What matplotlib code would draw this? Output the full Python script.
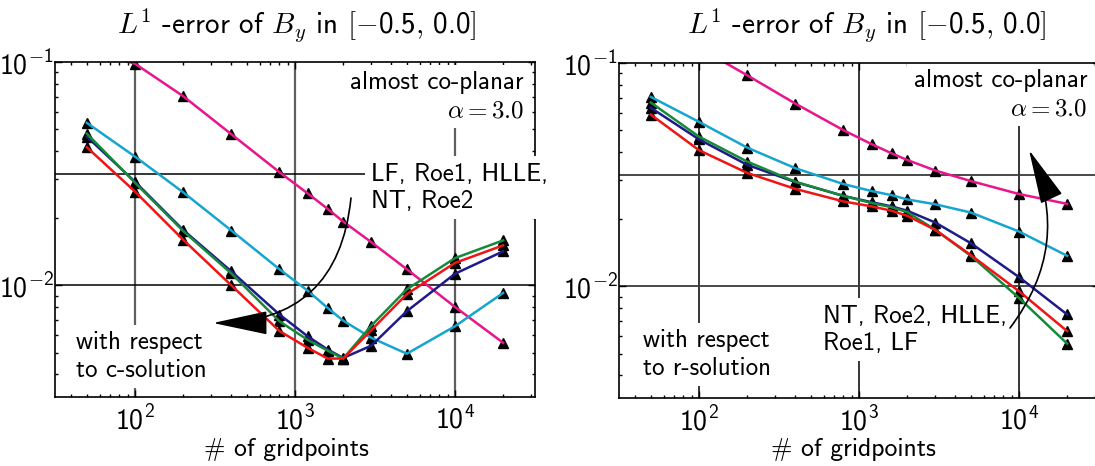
import os
import matplotlib
matplotlib.use("Agg")
import matplotlib.pyplot as plt
from matplotlib import font_manager
from matplotlib.ticker import LogLocator, NullFormatter, FixedLocator, FixedFormatter

cmss = os.path.join(matplotlib.get_data_path(), "fonts", "ttf", "cmss10.ttf")
font_manager.fontManager.addfont(cmss)
plt.rcParams['font.family'] = ['cmss10', 'DejaVu Sans']
plt.rcParams['mathtext.fontset'] = 'cm'
plt.rcParams['mathtext.rm'] = 'cmss10'
plt.rcParams['mathtext.sf'] = 'cmss10'
plt.rcParams['mathtext.fallback'] = 'cm'
plt.rcParams['axes.unicode_minus'] = False

# ---------------- data ----------------
gridpoints = [50, 100, 200, 400, 800, 1200, 1600, 2000, 3000, 5000, 10000, 20000]

# left panel: with respect to c-solution
c_magenta = [0.112, 0.0983, 0.0703, 0.0475, 0.0321, 0.0258, 0.0220, 0.0193, 0.0156, 0.0118, 0.0080, 0.00553]
c_cyan    = [0.0534, 0.0377, 0.0261, 0.0176, 0.0118, 0.00946, 0.00792, 0.00695, 0.00582, 0.00494, 0.00656, 0.00925]
c_blue    = [0.0463, 0.0291, 0.0177, 0.01155, 0.0074, 0.00591, 0.00516, 0.00473, 0.00537, 0.00766, 0.01127, 0.0142]
c_green   = [0.0478, 0.0288, 0.0175, 0.0113, 0.0069, 0.0057, 0.0051, 0.0047, 0.0066, 0.0096, 0.01324, 0.0159]
c_red     = [0.0415, 0.0263, 0.0160, 0.0100, 0.00624, 0.00525, 0.00470, 0.00470, 0.0063, 0.00914, 0.0126, 0.0151]

# right panel: with respect to r-solution
r_magenta = [0.160, 0.117, 0.0881, 0.0658, 0.0500, 0.0433, 0.0394, 0.0368, 0.0330, 0.0296, 0.0259, 0.0234]
r_cyan    = [0.0705, 0.0545, 0.0418, 0.0338, 0.0287, 0.0267, 0.0256, 0.0245, 0.0233, 0.0214, 0.0176, 0.0137]
r_blue    = [0.0630, 0.0455, 0.0350, 0.0293, 0.0254, 0.0238, 0.0228, 0.0218, 0.0193, 0.0156, 0.0110, 0.00748]
r_green   = [0.0665, 0.0468, 0.0362, 0.0294, 0.0254, 0.0236, 0.0226, 0.0215, 0.0179, 0.0137, 0.00887, 0.00554]
r_red     = [0.0587, 0.0407, 0.0322, 0.0273, 0.0240, 0.0228, 0.0218, 0.0207, 0.0179, 0.0138, 0.00951, 0.00630]

series_colors = ['#e8158c', '#15a5cf', '#1f1a8a', '#168a3a', '#f01414']

title_text = r"$L^1$ -error of $B_y$ in $[-$0.5$,\,$0.0$]$"
xlabel_text = "# of gridpoints"
ytick_vals = [1e-2, 1e-1]
ytick_labels = [r"$\mathrm{10^{-2}}$", r"$\mathrm{10^{-1}}$"]
xtick_vals = [1e2, 1e3, 1e4]
xtick_labels = [r"$\mathrm{10^{2}}$", r"$\mathrm{10^{3}}$", r"$\mathrm{10^{4}}$"]

W, H = 1095, 466
fig = plt.figure(figsize=(W / 100, H / 100), dpi=100)

def px_axes(x0, y0, x1, y1):
    return fig.add_axes([x0 / W, (H - y1) / H, (x1 - x0) / W, (y1 - y0) / H])

ax1 = px_axes(55, 62, 535, 397)
ax2 = px_axes(619, 63, 1099, 398)

def setup(ax, vcol, vlw, hcol, hlw):
    ax.set_xscale('log')
    ax.set_yscale('log')
    ax.set_xlim(10 ** 1.5, 10 ** 4.5)
    ax.set_ylim(10 ** -2.5, 10 ** -1)
    ax.xaxis.set_major_locator(FixedLocator(xtick_vals))
    ax.xaxis.set_major_formatter(FixedFormatter(xtick_labels))
    ax.yaxis.set_major_locator(FixedLocator(ytick_vals))
    ax.yaxis.set_major_formatter(FixedFormatter(ytick_labels))
    ax.xaxis.set_minor_locator(LogLocator(base=10, subs=range(2, 10)))
    ax.yaxis.set_minor_locator(LogLocator(base=10, subs=range(2, 10)))
    ax.xaxis.set_minor_formatter(NullFormatter())
    ax.yaxis.set_minor_formatter(NullFormatter())
    ax.tick_params(which='both', direction='in', top=True, right=True, width=1.0, labelsize=20)
    ax.tick_params(which='major', length=5)
    ax.tick_params(which='minor', length=2.5)
    ax.tick_params(axis='y', pad=1)
    ax.tick_params(axis='x', pad=6)
    for t in ax.xaxis.get_major_ticks() + ax.yaxis.get_major_ticks():
        t.label1.set_math_fontfamily('custom')
        t.label2.set_math_fontfamily('custom')
    for s in ax.spines.values():
        s.set_linewidth(1.2)
    ax.spines['top'].set_zorder(8)
    ax.spines['left'].set_zorder(8)
    for xv in xtick_vals:
        ax.axvline(xv, color=vcol, lw=vlw, zorder=1)
    for yv in [10 ** -1.5, 10 ** -2]:
        ax.axhline(yv, color=hcol, lw=hlw, zorder=1)

setup(ax1, '#5e5e5e', 1.6, 'black', 1.1)
setup(ax2, 'black', 1.1, '#3a3a3a', 1.3)

def draw(ax, data):
    for vals, col in zip(data, series_colors):
        ax.plot(gridpoints, vals, linestyle='none', marker='^', markersize=7,
                color='black', zorder=3, clip_on=True)
        ax.plot(gridpoints, vals, color=col, lw=1.8, zorder=4)

draw(ax1, [c_magenta, c_cyan, c_blue, c_green, c_red])
draw(ax2, [r_magenta, r_cyan, r_blue, r_green, r_red])

box = dict(boxstyle='square,pad=0.25', facecolor='white', edgecolor='none')

def ptext(ax, xpx, ypx_last, s, **kw):
    # ypx_last: baseline (pixels from top) of the last line
    ax.text(xpx / W, (H - ypx_last) / H, s, fontsize=18, bbox=box, zorder=6,
            linespacing=1.25, va='baseline', transform=fig.transFigure, clip_on=False, **kw)

# left panel annotations
ptext(ax1, 524, 117, "almost co-planar\n$\\alpha = 3.0$", ha='right', multialignment='right')
ptext(ax1, 371, 208, "LF, Roe1, HLLE,\nNT, Roe2", ha='left')
ptext(ax1, 76, 377, "with respect\nto c-solution", ha='left')
# right panel annotations
ptext(ax2, 1087, 115, "almost co-planar\n$\\alpha = 3.0$", ha='right', multialignment='right')
ptext(ax2, 823, 350, "NT, Roe2, HLLE,\nRoe1, LF", ha='left')
ptext(ax2, 643, 375, "with respect\nto r-solution", ha='left')

# titles and x labels
fig.text(297 / W, (H - 33) / H, title_text, fontsize=21, ha='center', va='baseline')
fig.text(867 / W, (H - 33) / H, title_text, fontsize=21, ha='center', va='baseline')
fig.text(286 / W, (H - 456) / H, xlabel_text, fontsize=18.5, ha='center', va='baseline')
fig.text(853 / W, (H - 456) / H, xlabel_text, fontsize=18.5, ha='center', va='baseline')

# curved arrows
arrow_kw = dict(arrowstyle='-|>,head_length=1.4,head_width=0.3', color='black', lw=1.2,
                mutation_scale=25, shrinkA=0, shrinkB=0)
fig.add_artist(matplotlib.patches.FancyArrowPatch((351 / W, (H - 198) / H), (213 / W, (H - 323) / H),
               transform=fig.transFigure, connectionstyle='arc3,rad=-0.45', zorder=7, **arrow_kw))
fig.add_artist(matplotlib.patches.FancyArrowPatch((1010 / W, (H - 328) / H), (1029 / W, (H - 150) / H),
               transform=fig.transFigure, connectionstyle='arc3,rad=0.3', zorder=7, **arrow_kw))

fig.savefig("out.png", dpi=100)
